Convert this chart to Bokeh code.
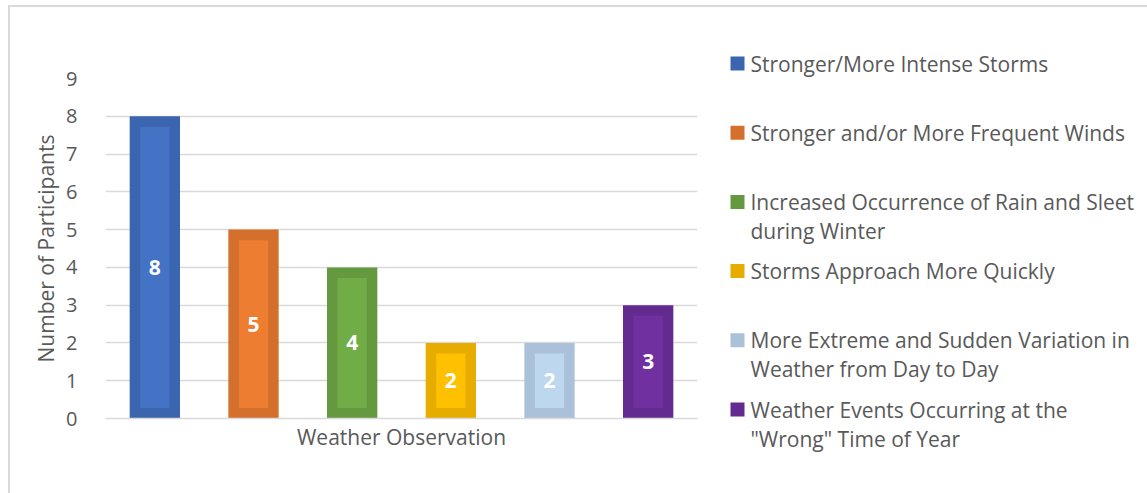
from bokeh.plotting import figure
from bokeh.layouts import row
from bokeh.models import ColumnDataSource, Range1d, FixedTicker
from bokeh.core.properties import value
from bokeh.embed import file_html
from bokeh.resources import INLINE

# Survey results: how many participants reported each weather observation
observations = [
    "Stronger/More Intense Storms",
    "Stronger and/or More Frequent Winds",
    "Increased Occurrence of Rain and Sleet during Winter",
    "Storms Approach More Quickly",
    "More Extreme and Sudden Variation in Weather from Day to Day",
    "Weather Events Occurring at the \"Wrong\" Time of Year",
]
participants = [8, 5, 4, 2, 2, 3]

# Legend text, broken into the lines it is shown on
legend_labels = [
    "Stronger/More Intense Storms",
    "Stronger and/or More Frequent Winds",
    "Increased Occurrence of Rain and Sleet\nduring Winter",
    "Storms Approach More Quickly",
    "More Extreme and Sudden Variation in\nWeather from Day to Day",
    "Weather Events Occurring at the\n\"Wrong\" Time of Year",
]
y_ticks = [0, 1, 2, 3, 4, 5, 6, 7, 8, 9]

fill_colors = ["#4472C4", "#ED7D31", "#70AD47", "#FFC000", "#BDD7EE", "#7030A0"]
edge_colors = ["#3B65AF", "#D5702C", "#64993F", "#E6AD00", "#ABC1D9", "#632B8F"]

FONT = "Open Sans"
TEXT_COLOR = "#595959"
GRID_COLOR = "#D9D9D9"

bar_width = 0.51
inset_x = 0.107   # width of the darker edge, in slot units
inset_y = 0.28    # height of the darker edge, in value units

# Each observation gets one slot along x, in the order listed
slots = list(range(len(observations)))

src = ColumnDataSource(dict(
    x=slots,
    name=observations,
    top=participants,
    inner_top=[v - inset_y for v in participants],
    mid=[v / 2 for v in participants],
    label=[str(v) for v in participants],
    fill=fill_colors,
    edge=edge_colors,
))

p = figure(
    x_range=Range1d(-0.5, len(observations) - 0.5),
    y_range=Range1d(0, 9),
    width=710, height=486,
    output_backend="svg", toolbar_location=None,
    min_border_left=95, min_border_right=23,
    min_border_top=71, min_border_bottom=75,
    frame_align=False,
)
p.outline_line_color = None
p.background_fill_color = "white"
p.border_fill_color = "white"

# Bars: a darker outer block with a lighter inner panel
p.vbar(x="x", top="top", bottom=0, width=bar_width, source=src,
       fill_color="edge", line_color=None)
p.vbar(x="x", top="inner_top", bottom=inset_y, width=bar_width - 2 * inset_x,
       source=src, fill_color="fill", line_color=None)

p.text(x="x", y="mid", text="label", source=src,
       text_color="white", text_font=value(FONT), text_font_style="bold",
       text_font_size="21px", text_align="center", text_baseline="middle")

# Axes and grid
p.xgrid.grid_line_color = None
p.ygrid.grid_line_color = GRID_COLOR
p.ygrid.grid_line_width = 1.5
p.yaxis.ticker = FixedTicker(ticks=y_ticks)
p.yaxis.axis_line_color = None
p.yaxis.major_tick_line_color = None
p.yaxis.minor_tick_line_color = None
p.yaxis.major_label_text_font = FONT
p.yaxis.major_label_text_font_size = "20px"
p.yaxis.major_label_text_color = TEXT_COLOR
p.yaxis.major_label_standoff = 22
p.yaxis.axis_label = "Number of Participants"
p.yaxis.axis_label_text_font = FONT
p.yaxis.axis_label_text_font_size = "21px"
p.yaxis.axis_label_text_font_style = "normal"
p.yaxis.axis_label_text_color = TEXT_COLOR
p.yaxis.axis_label_standoff = 3

p.xaxis.ticker = FixedTicker(ticks=[])
p.xaxis.axis_line_color = GRID_COLOR
p.xaxis.axis_line_width = 1.5
p.xaxis.major_tick_line_color = None
p.xaxis.minor_tick_line_color = None
p.xaxis.major_label_standoff = 0
p.xaxis.axis_label = "Weather Observation"
p.xaxis.axis_label_text_font = FONT
p.xaxis.axis_label_text_font_size = "21px"
p.xaxis.axis_label_text_font_style = "normal"
p.xaxis.axis_label_text_color = TEXT_COLOR
p.xaxis.axis_label_standoff = 4

# Legend panel, laid out in pixel coordinates (y grows downward)
leg_w, leg_h = 427, 486
lg = figure(
    x_range=Range1d(0, leg_w), y_range=Range1d(leg_h, 0),
    width=leg_w, height=leg_h,
    output_backend="svg", toolbar_location=None,
    min_border=0, frame_align=False,
)
lg.axis.visible = False
lg.grid.visible = False
lg.outline_line_color = None

first_y = 56
spacing = 69.2
line_gap = 29
swatch_x = 17
text_x = 30

lg.scatter(x=[swatch_x] * len(edge_colors),
           y=[first_y + i * spacing for i in range(len(edge_colors))],
           marker="square", size=14, fill_color=edge_colors, line_color=None)

tx, ty, tt = [], [], []
for i, lab in enumerate(legend_labels):
    for j, line in enumerate(lab.split("\n")):
        tx.append(text_x)
        ty.append(first_y + i * spacing + j * line_gap)
        tt.append(line)
lg.text(x=tx, y=ty, text=tt, text_font=value(FONT), text_font_size="21px",
        text_color=TEXT_COLOR, text_align="left", text_baseline="middle")

layout = row(p, lg, styles={
    "margin-left": "8px", "margin-top": "5px",
    "border-left": "2px solid #D9D9D9", "border-top": "2px solid #D9D9D9",
})

open("out.html", "w").write(file_html(layout, INLINE))
